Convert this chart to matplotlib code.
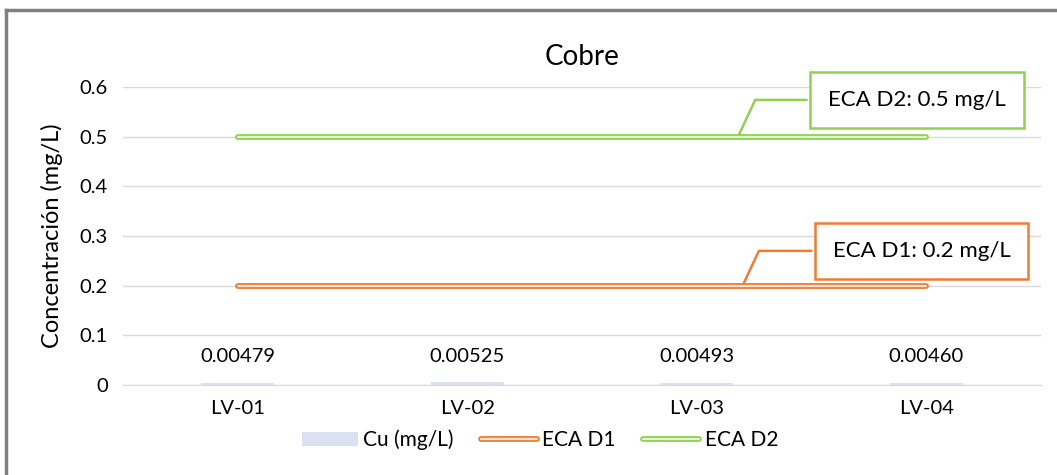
import matplotlib.pyplot as plt
import matplotlib.patheffects as pe
from matplotlib.lines import Line2D
import numpy as np

plt.rcParams['font.family'] = ['Lato', 'DejaVu Sans']

# datos
estaciones = ["LV-01", "LV-02", "LV-03", "LV-04"]
cu = [0.00479, 0.00525, 0.00493, 0.00460]
cu_labels = ["0.00479", "0.00525", "0.00493", "0.00460"]
eca_d1 = [0.2, 0.2, 0.2, 0.2]
eca_d2 = [0.5, 0.5, 0.5, 0.5]
yticks = [0, 0.1, 0.2, 0.3, 0.4, 0.5, 0.6]
ytick_labels = ["0", "0.1", "0.2", "0.3", "0.4", "0.5", "0.6"]

c_bar = "#D9E1F2"
c_d1 = "#ED7D31"
c_d2 = "#92D050"
c_grid = "#D9D9D9"

W, H = 1057, 475
fig = plt.figure(figsize=(W / 100, H / 100), dpi=100)
ax = fig.add_axes([123 / W, 1 - 385 / H, (1041 - 123) / W, (385 - 87) / H])

x = np.arange(len(estaciones))
barras = ax.bar(x, cu, width=0.32, color=c_bar, label="Cu (mg/L)", zorder=2)
for xi, v, t in zip(x, cu, cu_labels):
    ax.text(xi, v + 0.052, t, ha="center", va="center", fontsize=14.5, color="#000000")

l1, = ax.plot(x, eca_d1, color="#FBE3D4", lw=1.6, solid_capstyle="round", zorder=3,
              label="ECA D1",
              path_effects=[pe.Stroke(linewidth=4.2, foreground=c_d1, capstyle="round"), pe.Normal()])
l2, = ax.plot(x, eca_d2, color="#E4F3D6", lw=1.6, solid_capstyle="round", zorder=3,
              label="ECA D2",
              path_effects=[pe.Stroke(linewidth=4.2, foreground=c_d2, capstyle="round"), pe.Normal()])

ax.set_xlim(-0.5, len(estaciones) - 0.5)
ax.set_ylim(0, 0.6)
ax.set_yticks(yticks)
ax.set_yticklabels(ytick_labels)
ax.set_xticks(x)
ax.set_xticklabels(estaciones)
ax.tick_params(length=0, labelsize=14.5)
ax.tick_params(axis="x", pad=11)
ax.tick_params(axis="y", pad=11)
ax.grid(axis="y", color=c_grid, lw=1, zorder=0)
ax.set_axisbelow(True)
for s in ["top", "right", "left"]:
    ax.spines[s].set_visible(False)
ax.spines["bottom"].set_color(c_grid)
ax.set_ylabel("Concentración (mg/L)", fontsize=17, labelpad=12)
ax.set_title("Cobre", fontsize=20, pad=16)

# etiquetas de ECA con línea guía
def etiqueta(texto, xline, yval, xbox, ybox, color):
    ax.annotate(texto, xy=(xline, yval), xycoords="data",
                xytext=(xbox, ybox), textcoords="data",
                fontsize=16, ha="center", va="center",
                bbox=dict(boxstyle="square,pad=0.8", fc="white", ec=color, lw=1.8),
                arrowprops=dict(arrowstyle="-", color=color, lw=1.8,
                                connectionstyle="angle,angleA=0,angleB=65,rad=0"))

etiqueta("ECA D2: 0.5 mg/L", 2.18, 0.5, 2.96, 0.574, c_d2)
etiqueta("ECA D1: 0.2 mg/L", 2.20, 0.2, 2.98, 0.27, c_d1)

fig.legend([barras, l1, l2], ["Cu (mg/L)", "ECA D1", "ECA D2"], loc="center",
           bbox_to_anchor=(540 / W, 1 - 440 / H), ncol=3, frameon=False,
           fontsize=15, handlelength=2.7, columnspacing=1.3, handletextpad=0.25)

# borde del gráfico
fig.add_artist(Line2D([6 / W, 6 / W], [0, 1 - 10 / H], transform=fig.transFigure,
                      color="#808080", lw=2.5))
fig.add_artist(Line2D([6 / W, 1], [1 - 10 / H, 1 - 10 / H], transform=fig.transFigure,
                      color="#808080", lw=2.5))

fig.savefig("out.png", dpi=100)
